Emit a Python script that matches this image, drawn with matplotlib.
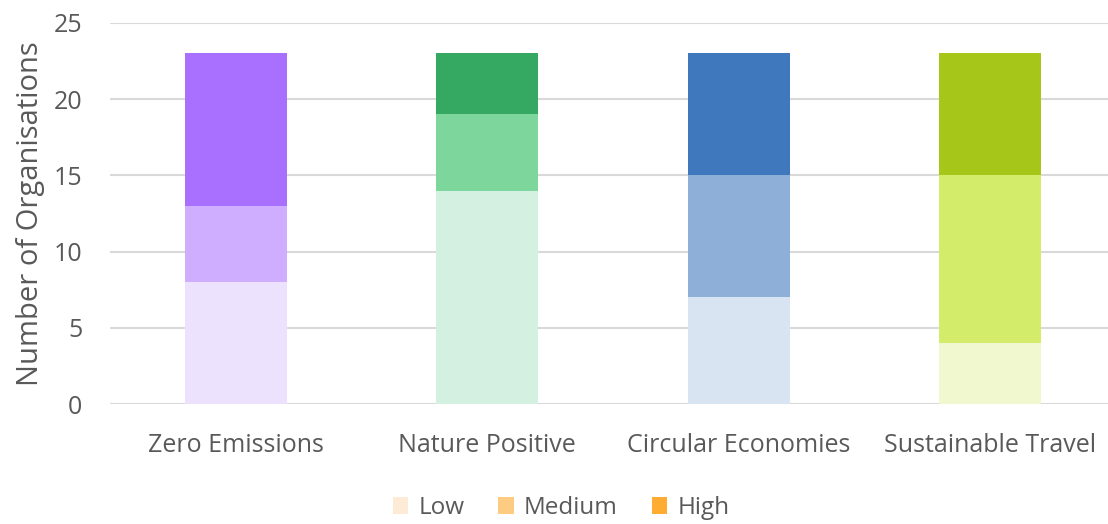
import matplotlib
matplotlib.use("Agg")
import matplotlib.pyplot as plt
from matplotlib.patches import Patch

plt.rcParams['font.family'] = ['Open Sans', 'DejaVu Sans']

categories = ["Zero Emissions", "Nature Positive", "Circular Economies", "Sustainable Travel"]
levels = ["Low", "Medium", "High"]
low = [8, 14, 7, 4]
medium = [5, 5, 8, 11]
high = [10, 4, 8, 8]

# per-category shades for Low / Medium / High
bar_colors = [
    ["#ECE2FD", "#CFADFF", "#A970FF"],
    ["#D4F0E0", "#7DD69C", "#35A862"],
    ["#D9E4F2", "#8EAFD8", "#3F78BC"],
    ["#F1F8D0", "#D3EC6A", "#A6C71A"],
]
legend_colors = ["#FDEBD5", "#FDCB82", "#FFAC33"]
text_color = "#595959"

fig = plt.figure(figsize=(11.08, 5.24), dpi=100)
ax = fig.add_axes([110 / 1108, 1 - 404 / 524, (1116 - 110) / 1108, (404 - 23) / 524])

x = range(len(categories))
width = 0.405
for i in x:
    bottom = 0
    for j, vals in enumerate([low, medium, high]):
        ax.bar(i, vals[i], width, bottom=bottom, color=bar_colors[i][j], zorder=3, linewidth=0)
        bottom += vals[i]

ax.set_xlim(-0.5, 3.5)
ax.set_ylim(0, 25)
ax.set_yticks(range(0, 26, 5))
ax.set_xticks(list(x))
ax.set_xticklabels(categories)
ax.grid(axis='y', color="#D9D9D9", linewidth=1.5, zorder=0)
for s in ax.spines.values():
    s.set_visible(False)
ax.tick_params(axis='both', length=0, colors=text_color, labelsize=18)
ax.tick_params(axis='x', pad=21)
ax.tick_params(axis='y', pad=20)
ax.set_ylabel("Number of Organisations", color=text_color, fontsize=21, labelpad=6)

handles = [Patch(facecolor=c, edgecolor='none') for c in legend_colors]
fig.legend(handles, levels, loc='center', bbox_to_anchor=(561 / 1108, 1 - 508 / 524),
           ncol=3, frameon=False, fontsize=17.5, labelcolor=text_color,
           handlelength=0.65, handleheight=0.65, handletextpad=0.4, columnspacing=1.4)

fig.savefig("out.png", dpi=100)
